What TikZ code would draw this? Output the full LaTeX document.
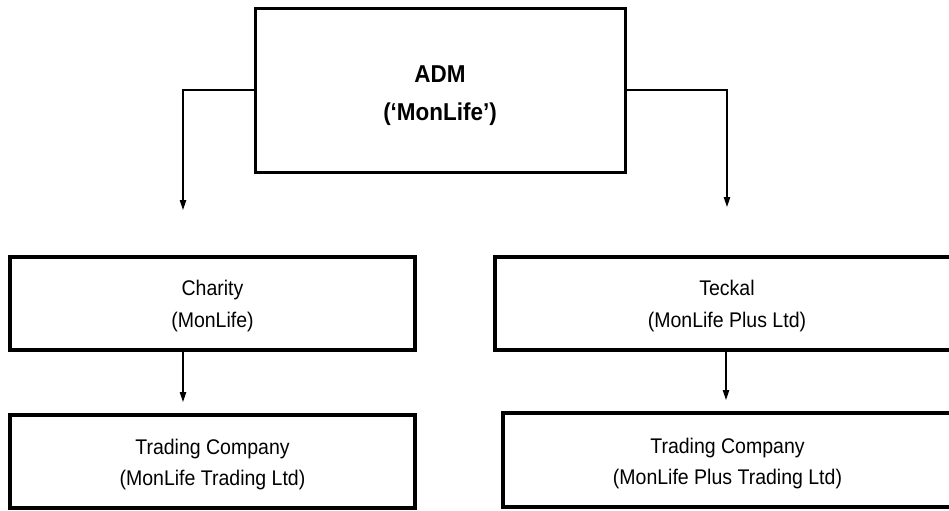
\documentclass[tikz,border=0pt]{standalone}
\usepackage{fontspec}
\setmainfont{Liberation Sans}[FakeStretch=0.92]
\usepackage{tikz}
\usetikzlibrary{arrows.meta}

\begin{document}
\begin{tikzpicture}[x=0.5pt,y=0.5pt]
	\tikzstyle{every node}+=[inner sep=0pt, align=center]
	\tikzstyle{topbox}=[draw=black, line width=1.5pt, minimum width=185pt, minimum height=82pt]
	\tikzstyle{unitbox}=[draw=black, line width=2pt, minimum height=46.5pt]
	\tikzstyle{toptext}=[font=\fontsize{12.2}{19}\selectfont\bfseries]
	\tikzstyle{unittext}=[font=\fontsize{10.6}{15.7}\selectfont]
	\tikzstyle{link}=[black, line width=0.6pt, -{Triangle[length=5pt, width=3.2pt]}]
	\useasboundingbox (0,0) rectangle (949,-510);
	\clip (0,0) rectangle (949,-510);
	% boxes
	\node [topbox] (adm) at (440,-90) {};
	\node [unitbox, minimum width=202.5pt] (charity) at (212.5,-303.5) {};
	\node [unitbox, minimum width=232pt] (teckal) at (727,-303.5) {};
	\node [unitbox, minimum width=202.5pt] (trade1) at (212.5,-461) {};
	\node [unitbox, minimum width=224.5pt, minimum height=47pt] (trade2) at (727.5,-460) {};
	% texts
	\node [toptext] (admtxt) at (440,-96) {ADM\\(‘MonLife’)};
	\node [unittext] (charitytxt) at (212.5,-306) {Charity\\(MonLife)};
	\node [unittext] (teckaltxt) at (727,-306) {Teckal\\(MonLife Plus Ltd)};
	\node [unittext] (trade1txt) at (212.5,-464.5) {Trading Company\\(MonLife Trading Ltd)};
	\node [unittext] (trade2txt) at (727.5,-463.5) {Trading Company\\(MonLife Plus Trading Ltd)};
	% arrows
	\coordinate (lend) at (183,-210);
	\coordinate (rend) at (727,-207);
	\coordinate (cend) at (183,-402);
	\coordinate (tend) at (726,-400);
	\draw [link] (adm.west) -| (lend);
	\draw [link] (adm.east) -| (rend);
	\draw [link] (charity.south -| cend) -- (cend);
	\draw [link] (teckal.south -| tend) -- (tend);
\end{tikzpicture}
\end{document}
